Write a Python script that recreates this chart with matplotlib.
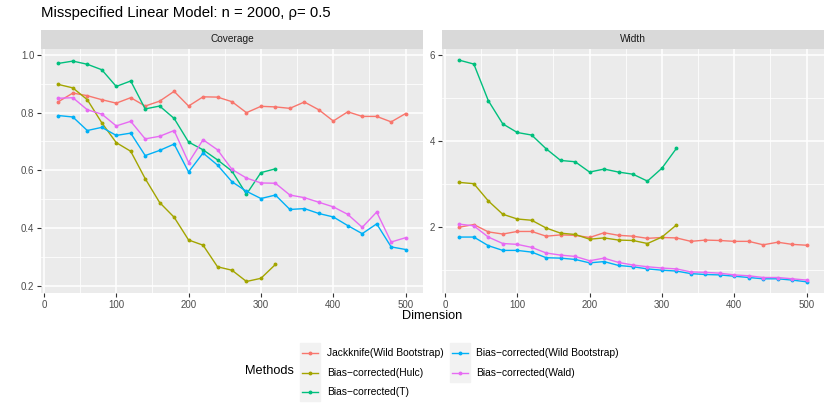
import matplotlib
matplotlib.use("Agg")
import matplotlib.pyplot as plt
from matplotlib.lines import Line2D
from matplotlib.patches import Rectangle

plt.rcParams["font.family"] = ["Liberation Sans", "DejaVu Sans"]

# Dimension grid (some methods stop at 320)
dims = [20, 40, 60, 80, 100, 120, 140, 160, 180, 200, 220, 240, 260,
        280, 300, 320, 340, 360, 380, 400, 420, 440, 460, 480, 500]

methods = ["Jackknife(Wild Bootstrap)", "Bias\u2212corrected(Hulc)",
           "Bias\u2212corrected(T)", "Bias\u2212corrected(Wild Bootstrap)",
           "Bias\u2212corrected(Wald)"]
colors = ["#F8766D", "#A3A500", "#00BF7D", "#00B0F6", "#E76BF3"]

# Coverage values
cov_jack = [0.838, 0.868, 0.859, 0.845, 0.833, 0.852, 0.823, 0.840, 0.874,
            0.823, 0.855, 0.854, 0.838, 0.800, 0.822, 0.820, 0.815, 0.837,
            0.810, 0.771, 0.803, 0.787, 0.787, 0.768, 0.797]
cov_hulc = [0.898, 0.886, 0.845, 0.765, 0.696, 0.666, 0.571, 0.488, 0.437,
            0.358, 0.340, 0.265, 0.253, 0.214, 0.225, 0.273]
cov_t = [0.971, 0.979, 0.968, 0.949, 0.891, 0.910, 0.813, 0.823, 0.780,
         0.698, 0.671, 0.636, 0.597, 0.517, 0.592, 0.605]
cov_wild = [0.790, 0.785, 0.738, 0.749, 0.721, 0.729, 0.651, 0.669, 0.691,
            0.594, 0.660, 0.618, 0.560, 0.527, 0.502, 0.514, 0.464, 0.467,
            0.450, 0.438, 0.408, 0.380, 0.414, 0.334, 0.325]
cov_wald = [0.850, 0.852, 0.810, 0.795, 0.754, 0.770, 0.709, 0.718, 0.738,
            0.627, 0.706, 0.671, 0.603, 0.573, 0.556, 0.555, 0.514, 0.505,
            0.489, 0.473, 0.447, 0.402, 0.455, 0.351, 0.366]

# Width values
wid_jack = [2.00, 2.06, 1.89, 1.84, 1.90, 1.90, 1.79, 1.82, 1.81, 1.76,
            1.87, 1.81, 1.79, 1.74, 1.76, 1.75, 1.67, 1.70, 1.69, 1.67,
            1.67, 1.59, 1.65, 1.60, 1.58]
wid_hulc = [3.04, 3.01, 2.61, 2.30, 2.19, 2.16, 1.98, 1.86, 1.83, 1.72,
            1.75, 1.70, 1.69, 1.62, 1.77, 2.05]
wid_t = [5.88, 5.79, 4.94, 4.40, 4.20, 4.14, 3.82, 3.55, 3.52, 3.28,
         3.35, 3.28, 3.23, 3.07, 3.37, 3.83]
wid_wild = [1.77, 1.77, 1.57, 1.46, 1.46, 1.42, 1.29, 1.28, 1.25, 1.17,
            1.20, 1.11, 1.08, 1.03, 1.00, 0.98, 0.92, 0.90, 0.89, 0.86,
            0.83, 0.80, 0.80, 0.77, 0.73]
wid_wald = [2.07, 2.03, 1.77, 1.62, 1.60, 1.53, 1.40, 1.35, 1.32, 1.22,
            1.28, 1.18, 1.12, 1.08, 1.05, 1.03, 0.96, 0.95, 0.93, 0.89,
            0.87, 0.83, 0.83, 0.80, 0.77]

coverage = [cov_jack, cov_hulc, cov_t, cov_wild, cov_wald]
width = [wid_jack, wid_hulc, wid_t, wid_wild, wid_wald]

W, H = 830, 415
LW, MS = 1.0, 1.8
fig = plt.figure(figsize=(W / 100, H / 100), dpi=100)


def px(x0, y0, x1, y1):
    # pixel box (top-left origin) -> figure fraction rect
    return [x0 / W, 1 - y1 / H, (x1 - x0) / W, (y1 - y0) / H]


def style_panel(ax, label, major_y, minor_y, ylim):
    ax.set_facecolor("#EBEBEB")
    for s in ax.spines.values():
        s.set_visible(False)
    ax.set_xlim(-4, 524)
    ax.set_ylim(*ylim)
    ax.set_xticks([0, 100, 200, 300, 400, 500])
    ax.set_xticks([50, 150, 250, 350, 450], minor=True)
    ax.set_yticks(major_y)
    ax.set_yticks(minor_y, minor=True)
    ax.grid(which="major", color="white", linewidth=1.1)
    ax.grid(which="minor", color="white", linewidth=0.55)
    ax.set_axisbelow(True)
    ax.tick_params(which="major", length=2.8, width=0.8, color="#333333",
                   labelsize=7, labelcolor="#4D4D4D", pad=2)
    ax.tick_params(which="minor", length=0)
    # strip
    pos = ax.get_position()
    sax = fig.add_axes([pos.x0, pos.y1, pos.width, 19 / H])
    sax.set_facecolor("#D9D9D9")
    sax.set_xticks([])
    sax.set_yticks([])
    for s in sax.spines.values():
        s.set_visible(False)
    sax.text(0.5, 0.5, label, ha="center", va="center", fontsize=7.3,
             color="#1A1A1A", transform=sax.transAxes)


ax1 = fig.add_axes(px(41, 49, 423, 293))
ax2 = fig.add_axes(px(442, 49, 824, 293))

for vals, c in zip(coverage, colors):
    ax1.plot(dims[:len(vals)], vals, color=c, linewidth=LW, marker="o",
             markersize=MS)
for vals, c in zip(width, colors):
    ax2.plot(dims[:len(vals)], vals, color=c, linewidth=LW, marker="o",
             markersize=MS)

style_panel(ax1, "Coverage", [0.2, 0.4, 0.6, 0.8, 1.0],
            [0.3, 0.5, 0.7, 0.9], (0.174, 1.021))
ax1.set_yticklabels(["0.2", "0.4", "0.6", "0.8", "1.0"])
style_panel(ax2, "Width", [2, 4, 6], [1, 3, 5], (0.47, 6.14))

fig.text(41 / W, 1 - 13 / H, "Misspecified Linear Model: n = 2000, \u03c1= 0.5",
         fontsize=10.7, ha="left", va="center", color="black")
fig.text(432 / W, 1 - 316 / H, "Dimension", fontsize=9.2, ha="center",
         va="center")

# legend
fig.text(245 / W, 1 - 371 / H, "Methods", fontsize=9.2, ha="left", va="center")
cols = [(300, 327), (450, 476)]
rows = [353, 372.5, 392]
fig.patches.append(Rectangle((300 / W, 1 - 401 / H), 20 / W, 58 / H,
                             transform=fig.transFigure, color="#F2F2F2",
                             zorder=0))
fig.patches.append(Rectangle((450 / W, 1 - 382 / H), 20 / W, 39 / H,
                             transform=fig.transFigure, color="#F2F2F2",
                             zorder=0))
for i, (name, c) in enumerate(zip(methods, colors)):
    kx, tx = cols[i // 3]
    ry = 1 - rows[i % 3] / H
    fig.lines.append(Line2D([(kx + 2) / W, (kx + 18) / W], [ry, ry],
                            transform=fig.transFigure, color=c,
                            linewidth=LW))
    fig.lines.append(Line2D([(kx + 10) / W], [ry], transform=fig.transFigure,
                            color=c, marker="o", markersize=MS))
    fig.text(tx / W, ry, name, fontsize=7.4, ha="left", va="center")

fig.savefig("out.png", dpi=100)
